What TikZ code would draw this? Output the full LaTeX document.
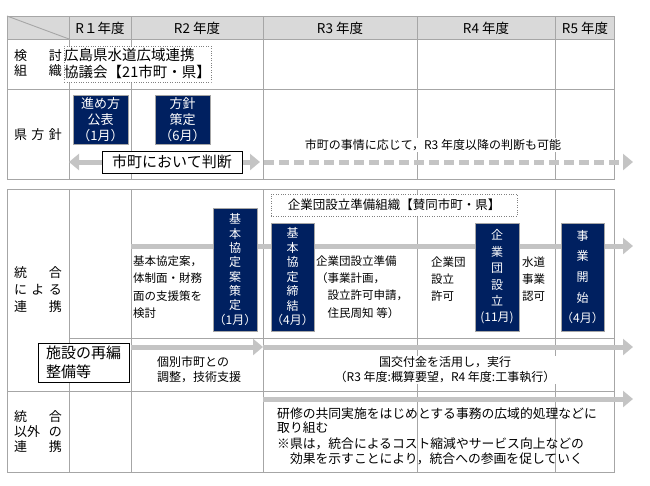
\documentclass[tikz,border=0pt]{standalone}
\usepackage{fontspec}
\setmainfont{Noto Sans CJK JP}
\usetikzlibrary{arrows.meta}

\definecolor{navy}{RGB}{0,32,96}
\definecolor{gridgray}{RGB}{166,166,166}
\definecolor{headgray}{RGB}{217,217,217}
\definecolor{arrowgray}{RGB}{196,196,196}

\newcommand{\spreadrow}[1]{\makebox[48pt][s]{#1}}

\begin{document}
\begin{tikzpicture}[
    x=1pt, y=-1pt,
    gridline/.style={
        draw=gridgray,
        line width=0.9pt
    },
    rowlabel/.style={
        align=center,
        inner sep=0pt
    },
    yearlabel/.style={
        font=\fontsize{13.5}{15}\selectfont,
        inner sep=0pt
    },
    navybox/.style={
        draw=gridgray,
        fill=navy,
        text=white,
        align=center,
        inner sep=0pt
    },
    dotbox/.style={
        draw=gray,
        dotted,
        fill=white,
        inner sep=0pt
    },
    plainbox/.style={
        draw=black,
        fill=white,
        inner sep=0pt
    },
    note/.style={
        inner sep=0pt,
        align=left
    },
    grayarrow/.style={
        draw=arrowgray,
        line width=5pt,
        -{Triangle[width=16pt,length=10pt]}
    }
]
    \useasboundingbox (0,0) rectangle (650,485);

    % upper table
    \fill[headgray] (7,16) rectangle (614,39);
    \draw[gridline] (7,16) rectangle (614,179);
    \draw[gridline] (7,39) -- (614,39);
    \draw[gridline] (7,89) -- (614,89);
    \draw[gridline] (7,16) -- (69,39);
    \foreach \cx in {69,131,263,417,555}
        \draw[gridline] (\cx,16) -- (\cx,179);

    % lower table
    \draw[gridline] (7,189) rectangle (614,472);
    \draw[gridline] (69,338) -- (614,338);
    \draw[gridline] (7,391) -- (614,391);
    \foreach \cx in {69,131,263,417,555}
        \draw[gridline] (\cx,189) -- (\cx,472);

    \node[yearlabel] (r1) at (100,28) {R１年度};
    \node[yearlabel] (r2) at (197,28) {R2 年度};
    \node[yearlabel] (r3) at (340,28) {R3 年度};
    \node[yearlabel] (r4) at (486,28) {R4 年度};
    \node[yearlabel] (r5) at (585,28) {R5 年度};

    \node[rowlabel, font=\fontsize{13}{15}\selectfont] (kentou) at (38,63)
        {\spreadrow{検\hfill 討}\\\spreadrow{組\hfill 織}};
    \node[rowlabel, font=\fontsize{13}{15}\selectfont] (kenhoushin) at (38,135)
        {\spreadrow{県\hfill 方\hfill 針}};
    \node[rowlabel, font=\fontsize{13}{17}\selectfont] (togo) at (38,290)
        {\spreadrow{統\hfill 合}\\\spreadrow{に\hfill よ\hfill る}\\\spreadrow{連\hfill 携}};
    \node[rowlabel, font=\fontsize{13}{15}\selectfont] (togoigai) at (38,432)
        {\spreadrow{統\hfill 合}\\\spreadrow{以外\hfill の}\\\spreadrow{連\hfill 携}};

    \node[dotbox, minimum width=145, minimum height=36, align=left,
        font=\fontsize{14.5}{17}\selectfont] (kyogikai) at (137.5,64)
        {広島県水道広域連携\\協議会【21市町・県】};

    \node[navybox, minimum width=55, minimum height=49,
        font=\fontsize{13}{16}\selectfont] (susumekata) at (100.5,119.5)
        {進め方\\公表\\（1月）};
    \node[navybox, minimum width=55, minimum height=49,
        font=\fontsize{13}{16}\selectfont] (houshin) at (182.5,119.5)
        {方針\\策定\\（6月）};

    \coordinate (handanL) at (69,162);
    \coordinate (handanR) at (260,162);
    \coordinate (handanS) at (264,162);
    \coordinate (handanE) at (633,162);
    \draw[grayarrow, {Triangle[width=16pt,length=10pt]}-{Triangle[width=16pt,length=10pt]}]
        (handanL) -- (handanR);
    \draw[grayarrow, dash pattern=on 10pt off 5pt] (handanS) -- (handanE);
    \node[plainbox, minimum width=140, minimum height=22,
        font=\fontsize{15}{17}\selectfont] (shicho) at (172,162) {市町において判断};
    \node[note, fill=white, inner sep=1pt, font=\fontsize{12}{14}\selectfont] (jijou)
        at (433,145) {市町の事情に応じて，R3 年度以降の判断も可能};

    % arrows of the lower table
    \coordinate (togoA) at (131,246);
    \coordinate (togoB) at (633,246);
    \coordinate (seibiA) at (131,347);
    \coordinate (seibiB) at (263,347);
    \coordinate (seibiC) at (633,347);
    \coordinate (igaiA) at (263,399);
    \coordinate (igaiB) at (633,399);
    \draw[grayarrow] (togoA) -- (togoB);
    \draw[grayarrow] (seibiA) -- (seibiB);
    \draw[grayarrow] (seibiB) -- (seibiC);
    \draw[grayarrow] (igaiA) -- (igaiB);

    \node[dotbox, minimum width=246, minimum height=22,
        font=\fontsize{12.5}{14}\selectfont] (junbi) at (394,205)
        {企業団設立準備組織【賛同市町・県】};

    \node[navybox, minimum width=44, minimum height=123,
        font=\fontsize{12}{14.3}\selectfont] (kihonan) at (235,269.5)
        {基\\本\\協\\定\\案\\策\\定\\（1月）};
    \node[navybox, minimum width=43, minimum height=108,
        font=\fontsize{12}{14.5}\selectfont] (teiketsu) at (292.5,277)
        {基\\本\\協\\定\\締\\結\\（4月）};
    \node[navybox, minimum width=44, minimum height=108,
        font=\fontsize{12}{16.4}\selectfont] (setsuritsu) at (497,277)
        {企\\業\\団\\設\\立\\(11月)};
    \node[navybox, minimum width=43, minimum height=108,
        font=\fontsize{12}{20.7}\selectfont] (kaishi) at (582.5,277)
        {事\\業\\開\\始\\（4月）};

    \node[note, anchor=west, font=\fontsize{11.5}{17.3}\selectfont] (kentoText)
        at (133,287) {基本協定案，\\体制面・財務\\面の支援策を\\検討};
    \node[note, anchor=west, font=\fontsize{11.5}{17.3}\selectfont] (junbiText)
        at (316,287) {企業団設立準備\\（事業計画，\\\hspace*{1em}設立許可申請，\\\hspace*{1em}住民周知 等）};
    \node[note, anchor=west, font=\fontsize{11.5}{17.3}\selectfont] (kyokaText)
        at (431,279) {企業団\\設立\\許可};
    \node[note, anchor=west, font=\fontsize{11.5}{17.3}\selectfont] (ninkaText)
        at (522,279) {水道\\事業\\認可};

    \node[plainbox, anchor=north west, minimum width=91, minimum height=39, align=left,
        font=\fontsize{15}{19}\selectfont] (shisetsu) at (38,343) {施設の再編\\整備等};
    \node[note, anchor=west, font=\fontsize{12}{15}\selectfont] (shienText)
        at (157,370) {個別市町との\\調整，技術支援};
    \node[note, align=center, fill=white, inner sep=1pt, font=\fontsize{12}{15}\selectfont] (kofuText)
        at (445,370) {国交付金を活用し，実行\\（R3 年度:概算要望，R4 年度:工事執行）};

    \node[note, anchor=north west, font=\fontsize{12.8}{14.5}\selectfont] (kenshuText)
        at (277,407) {研修の共同実施をはじめとする事務の広域的処理などに\\取り組む\\[1.5pt]%
        ※県は，統合によるコスト縮減やサービス向上などの\\\hspace*{1em}効果を示すことにより，統合への参画を促していく};

\end{tikzpicture}
\end{document}
